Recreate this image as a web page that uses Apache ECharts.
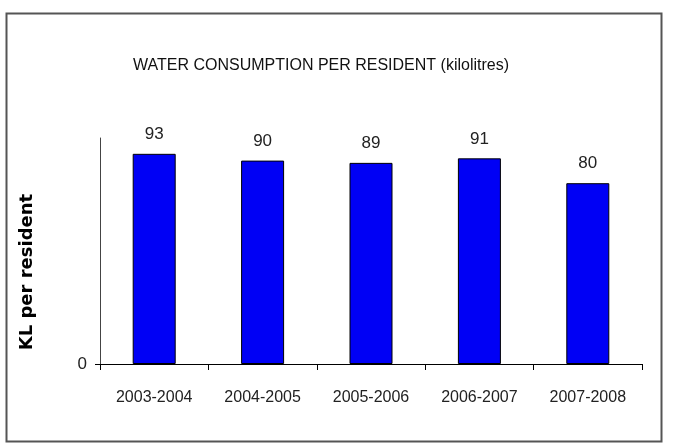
<!DOCTYPE html>
<html>
<head>
<meta charset="utf-8">
<script src="https://cdn.jsdelivr.net/npm/echarts@6/dist/echarts.min.js"></script>
<style>
  html, body { margin: 0; padding: 0; background: #fff; }
  #chart { width: 673px; height: 446px; }
</style>
</head>
<body>
<div id="chart"></div>
<script>
// 每户居民用水量柱图
const years = ['2003-2004', '2004-2005', '2005-2006', '2006-2007', '2007-2008']
const consumption = [93, 90, 89, 91, 80]
const yTicks = [0]

const sans = '"Liberation Sans", Arial, sans-serif'

const chart = echarts.init(document.getElementById('chart'), null, { renderer: 'canvas' })
chart.setOption({
  backgroundColor: '#fff',
  animation: false,
  graphic: [{
    type: 'rect', left: 4, top: 11,
    shape: { width: 655, height: 428 },
    style: { fill: 'none', stroke: '#555', lineWidth: 2 },
  }],
  title: {
    text: 'WATER CONSUMPTION PER RESIDENT (kilolitres)',
    left: 316, top: 53, textAlign: 'center',
    textStyle: { fontFamily: sans, fontSize: 16, fontWeight: 'normal', color: '#111' },
  },
  grid: { left: 100, right: 31, top: 138, bottom: 82 },
  xAxis: {
    type: 'category', data: years,
    axisLine: { lineStyle: { color: '#000', width: 1 } },
    axisTick: { show: true, length: 6, interval: 0, lineStyle: { color: '#000' } },
    axisLabel: { interval: 0, fontFamily: sans, fontSize: 16, color: '#222', margin: 26 },
  },
  yAxis: {
    type: 'value', min: 0, max: 100, interval: 100,
    name: 'KL per resident', nameLocation: 'middle', nameGap: 64, nameRotate: 90,
    nameTextStyle: {
      fontFamily: '"DejaVu Sans", sans-serif', fontWeight: 'bold', fontSize: 18,
      color: '#000', padding: [0, 42, 0, 0],
    },
    axisLine: { show: true, lineStyle: { color: '#444' } },
    axisTick: { show: true, length: 5, customValues: yTicks, lineStyle: { color: '#000' } },
    axisLabel: { customValues: yTicks, fontFamily: sans, fontSize: 17, color: '#222', margin: 13 },
    splitLine: { show: false },
  },
  series: [{
    type: 'bar', data: consumption, barWidth: 43,
    itemStyle: { color: '#0000f5', borderColor: '#000', borderWidth: 1 },
    label: {
      show: true, position: 'top', distance: 11,
      fontFamily: sans, fontSize: 17, color: '#222',
    },
  }],
})
</script>
</body>
</html>
